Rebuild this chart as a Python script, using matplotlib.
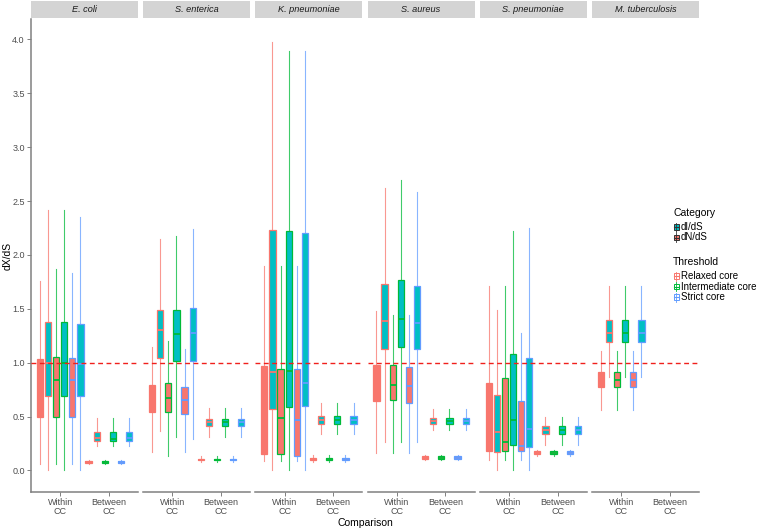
import numpy as np
import matplotlib.pyplot as plt
from matplotlib.patches import Rectangle

plt.rcParams['font.family'] = ['Liberation Sans', 'DejaVu Sans']

species = ['E. coli', 'S. enterica', 'K. pneumoniae', 'S. aureus', 'S. pneumoniae', 'M. tuberculosis']
comparisons = ['Within\nCC', 'Between\nCC']
thresholds = ['Relaxed core', 'Intermediate core', 'Strict core']
categories = ['dN/dS', 'dI/dS']
legend_categories = ['dI/dS', 'dN/dS']

# (whisker low, q1, median, q3, whisker high)
# order: Relaxed dN, Relaxed dI, Intermediate dN, Intermediate dI, Strict dN, Strict dI
ecoli_within = [[0.06, 0.50, 0.84, 1.03, 1.76], [0.00, 0.69, 1.00, 1.38, 2.42],
                [0.06, 0.50, 0.84, 1.05, 1.87], [0.00, 0.69, 1.00, 1.38, 2.42],
                [0.06, 0.50, 0.84, 1.04, 1.83], [0.00, 0.69, 0.99, 1.36, 2.35]]
ecoli_between = [[0.06, 0.07, 0.077, 0.085, 0.10], [0.23, 0.27, 0.30, 0.36, 0.49],
                 [0.06, 0.07, 0.077, 0.085, 0.10], [0.23, 0.27, 0.29, 0.36, 0.49],
                 [0.06, 0.07, 0.077, 0.085, 0.10], [0.23, 0.27, 0.30, 0.36, 0.49]]
senterica_within = [[0.17, 0.54, 0.66, 0.79, 1.15], [0.37, 1.04, 1.30, 1.49, 2.15],
                    [0.13, 0.54, 0.67, 0.81, 1.20], [0.31, 1.02, 1.27, 1.49, 2.18],
                    [0.17, 0.52, 0.65, 0.77, 1.13], [0.29, 1.02, 1.28, 1.51, 2.24]]
senterica_between = [[0.08, 0.095, 0.10, 0.11, 0.13], [0.31, 0.41, 0.45, 0.48, 0.58],
                     [0.08, 0.095, 0.10, 0.11, 0.13], [0.31, 0.41, 0.45, 0.48, 0.58],
                     [0.08, 0.095, 0.10, 0.11, 0.13], [0.31, 0.41, 0.45, 0.48, 0.58]]
kpneu_within = [[0.086, 0.157, 0.48, 0.97, 1.90], [0.00, 0.57, 0.91, 2.23, 3.98],
                [0.086, 0.155, 0.49, 0.94, 1.90], [0.00, 0.59, 0.92, 2.22, 3.89],
                [0.086, 0.13, 0.47, 0.94, 1.90], [0.00, 0.60, 0.81, 2.20, 3.89]]
kpneu_between = [[0.08, 0.10, 0.11, 0.12, 0.14], [0.34, 0.43, 0.47, 0.51, 0.63],
                 [0.08, 0.10, 0.11, 0.12, 0.14], [0.34, 0.43, 0.47, 0.51, 0.63],
                 [0.08, 0.10, 0.11, 0.12, 0.14], [0.34, 0.43, 0.47, 0.51, 0.63]]
saureus_within = [[0.16, 0.64, 0.80, 0.98, 1.48], [0.26, 1.13, 1.39, 1.73, 2.62],
                  [0.16, 0.65, 0.79, 0.98, 1.44], [0.26, 1.15, 1.41, 1.77, 2.70],
                  [0.16, 0.63, 0.78, 0.96, 1.44], [0.26, 1.13, 1.37, 1.71, 2.58]]
saureus_between = [[0.10, 0.11, 0.12, 0.13, 0.14], [0.38, 0.435, 0.46, 0.49, 0.57],
                   [0.10, 0.11, 0.12, 0.13, 0.14], [0.38, 0.435, 0.46, 0.49, 0.57],
                   [0.10, 0.11, 0.12, 0.13, 0.14], [0.38, 0.435, 0.46, 0.49, 0.57]]
spneu_within = [[0.095, 0.185, 0.26, 0.81, 1.71], [0.00, 0.17, 0.355, 0.70, 1.49],
                [0.095, 0.185, 0.26, 0.86, 1.71], [0.00, 0.24, 0.47, 1.08, 2.22],
                [0.095, 0.18, 0.23, 0.64, 1.28], [0.00, 0.22, 0.386, 1.04, 2.25]]
spneu_between = [[0.13, 0.15, 0.16, 0.18, 0.19], [0.24, 0.34, 0.38, 0.41, 0.50],
                 [0.13, 0.15, 0.16, 0.18, 0.19], [0.24, 0.34, 0.38, 0.41, 0.50],
                 [0.13, 0.15, 0.16, 0.18, 0.19], [0.24, 0.34, 0.38, 0.41, 0.50]]
mtb_within = [[0.565, 0.77, 0.84, 0.91, 1.11], [0.87, 1.19, 1.28, 1.40, 1.71],
              [0.565, 0.77, 0.84, 0.91, 1.11], [0.87, 1.19, 1.28, 1.40, 1.71],
              [0.565, 0.77, 0.84, 0.91, 1.11], [0.87, 1.19, 1.28, 1.40, 1.71]]
mtb_between = []

panel_data = [(ecoli_within, ecoli_between), (senterica_within, senterica_between),
              (kpneu_within, kpneu_between), (saureus_within, saureus_between),
              (spneu_within, spneu_between), (mtb_within, mtb_between)]

cat_colors = {'dN/dS': '#F8766D', 'dI/dS': '#00BFC4'}
thr_colors = {'Relaxed core': '#F8766D', 'Intermediate core': '#00BA38', 'Strict core': '#619CFF'}
axis_grey = '#808080'
text_grey = '#4D4D4D'

W, H = 757, 531
fig = plt.figure(figsize=(W / 100, H / 100), dpi=100)

panel_left, panel_w, panel_step = 31, 107, 112.2
panel_top, panel_bot = 19, 492
strip_top = 1

offsets = (np.arange(6) - 2.5) * 0.167
groups = [(t, c) for t in thresholds for c in categories]

for k, sp in enumerate(species):
    x0 = panel_left + k * panel_step
    ax = fig.add_axes([x0 / W, (H - panel_bot) / H, panel_w / W, (panel_bot - panel_top) / H])
    for j, stats in enumerate(panel_data[k]):
        if not stats:
            continue
        st = [dict(whislo=s[0], q1=s[1], med=s[2], q3=s[3], whishi=s[4], fliers=[]) for s in stats]
        art = ax.bxp(st, positions=j + 1 + offsets, widths=0.128, patch_artist=True,
                     showcaps=False, showfliers=False, manage_ticks=False)
        for b, (t, c) in enumerate(groups):
            box = art['boxes'][b]
            box.set_facecolor(cat_colors[c])
            box.set_edgecolor(thr_colors[t])
            box.set_linewidth(0.9)
            box.set_zorder(3)
            art['medians'][b].set_color(thr_colors[t])
            art['medians'][b].set_linewidth(1.3)
            art['medians'][b].set_zorder(4)
            for wl in art['whiskers'][2 * b:2 * b + 2]:
                wl.set_color(thr_colors[t])
                wl.set_alpha(0.75)
                wl.set_linewidth(0.8)
                wl.set_zorder(2)
    ax.axhline(1.0, color='#F0201C', ls=(0, (3.5, 2.5)), lw=1.0, zorder=5)
    ax.set_xlim(0.4, 2.6)
    ax.set_ylim(-0.2, 4.19)
    ax.set_xticks([1, 2])
    ax.set_xticklabels(comparisons, fontsize=6.5, color=text_grey, linespacing=1.0)
    ax.tick_params(axis='both', length=3, width=0.7, color=axis_grey, pad=1.5)
    for s in ['top', 'right']:
        ax.spines[s].set_visible(False)
    ax.spines['bottom'].set_color(axis_grey)
    ax.spines['bottom'].set_linewidth(1.1)
    if k == 0:
        ax.spines['left'].set_color(axis_grey)
        ax.spines['left'].set_linewidth(1.1)
        yt = np.arange(0, 4.01, 0.5)
        ax.set_yticks(yt)
        ax.set_yticklabels(['%.1f' % v for v in yt], fontsize=6.5, color=text_grey)
    else:
        ax.spines['left'].set_visible(False)
        ax.set_yticks([])

    # facet strip
    sax = fig.add_axes([x0 / W, (H - panel_top + 1) / H, panel_w / W, (panel_top - 1 - strip_top) / H])
    sax.set_facecolor('#D4D4D4')
    sax.set_xticks([])
    sax.set_yticks([])
    for s in sax.spines.values():
        s.set_visible(False)
    sax.text(0.5, 0.5, sp, style='italic', fontsize=6.6, color='#1A1A1A',
             ha='center', va='center', transform=sax.transAxes)

fig.text((panel_left + 5 * panel_step + panel_w + panel_left) / 2 / W, 1 - 523 / H, 'Comparison',
         fontsize=7.5, ha='center', va='center')
fig.text(8 / W, 1 - (panel_top + panel_bot) / 2 / H, 'dX/dS', fontsize=7.5, rotation=90,
         ha='center', va='center')

# legends
lg = fig.add_axes([0, 0, 1, 1])
lg.set_xlim(0, W)
lg.set_ylim(H, 0)
lg.axis('off')
lg.patch.set_visible(False)


def key(y, fill, edge):
    lg.plot([676, 676], [y - 4.5, y + 4.5], color=edge, lw=0.6)
    lg.add_patch(Rectangle((673.5, y - 2.8), 5, 5.6, facecolor=fill, edgecolor=edge, lw=0.7))
    lg.plot([673.5, 678.5], [y, y], color=edge, lw=0.8)


lg.text(673, 212.5, 'Category', fontsize=7.5, va='center')
for i, c in enumerate(legend_categories):
    y = 227 + i * 10.5
    key(y, cat_colors[c], '#333333')
    lg.text(681, y, c, fontsize=7, va='center')

lg.text(673, 262, 'Threshold', fontsize=7.5, va='center')
for i, t in enumerate(thresholds):
    y = 276 + i * 10.5
    key(y, 'white', thr_colors[t])
    lg.text(681, y, t, fontsize=7, va='center')

plt.savefig('out.png', dpi=100)
plt.close()
